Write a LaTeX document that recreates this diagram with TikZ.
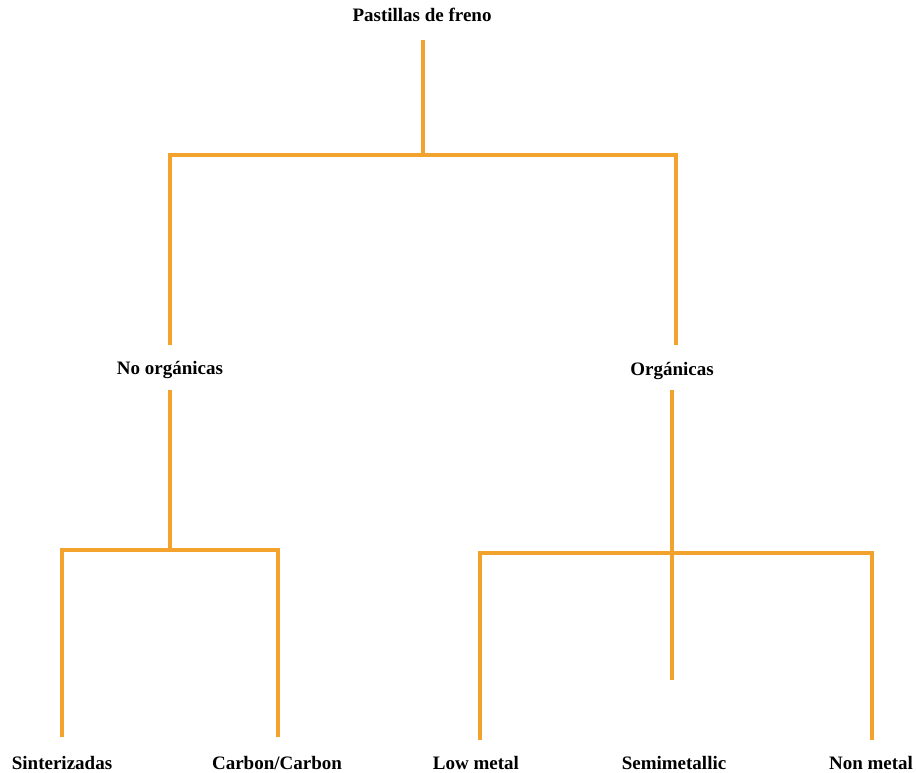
\documentclass[tikz,border=0pt]{standalone}
\usepackage{fontspec}
\setmainfont{Liberation Serif}
\begin{document}
\begin{tikzpicture}[x=1pt,y=-1pt,
  lbl/.style={font=\fontsize{19}{22}\selectfont\bfseries, anchor=base, inner sep=0pt},
  branch/.style={draw=treeorange, line width=4pt}]
\definecolor{treeorange}{RGB}{243,163,45}
\useasboundingbox (0,0) rectangle (916,773);

% labels
\node[lbl] (root) at (422,22) {Pastillas de freno};
\node[lbl] (inorg) at (170,374) {No orgánicas};
\node[lbl] (org) at (672,375) {Orgánicas};
\node[lbl] (sint) at (62,769) {Sinterizadas};
\node[lbl] (cc) at (277,769) {Carbon/Carbon};
\node[lbl] (low) at (476,769) {Low metal};
\node[lbl] (semi) at (674,769) {Semimetallic};
\node[lbl] (non) at (871,769) {Non metal};

% line ends and junctions
\coordinate (root-s) at (423,40);
\coordinate (root-j) at (423,155);
\coordinate (inorg-n) at (170,345);
\coordinate (org-n) at (676,345);
\coordinate (inorg-s) at (170,390);
\coordinate (inorg-j) at (170,550);
\coordinate (sint-n) at (62,737);
\coordinate (cc-n) at (278,737);
\coordinate (org-s) at (672,390);
\coordinate (org-j) at (672,553);
\coordinate (low-n) at (480,740);
\coordinate (semi-n) at (672,680);
\coordinate (non-n) at (872,740);

% first level
\draw[branch] (root-s) -- (root-j);
\draw[branch] (inorg-n) |- (root-j) -| (org-n);

% inorganic pads
\draw[branch] (inorg-s) -- (inorg-j);
\draw[branch] (sint-n) |- (inorg-j) -| (cc-n);

% organic pads
\draw[branch] (org-s) -- (semi-n);
\draw[branch] (low-n) |- (org-j) -| (non-n);
\end{tikzpicture}
\end{document}
